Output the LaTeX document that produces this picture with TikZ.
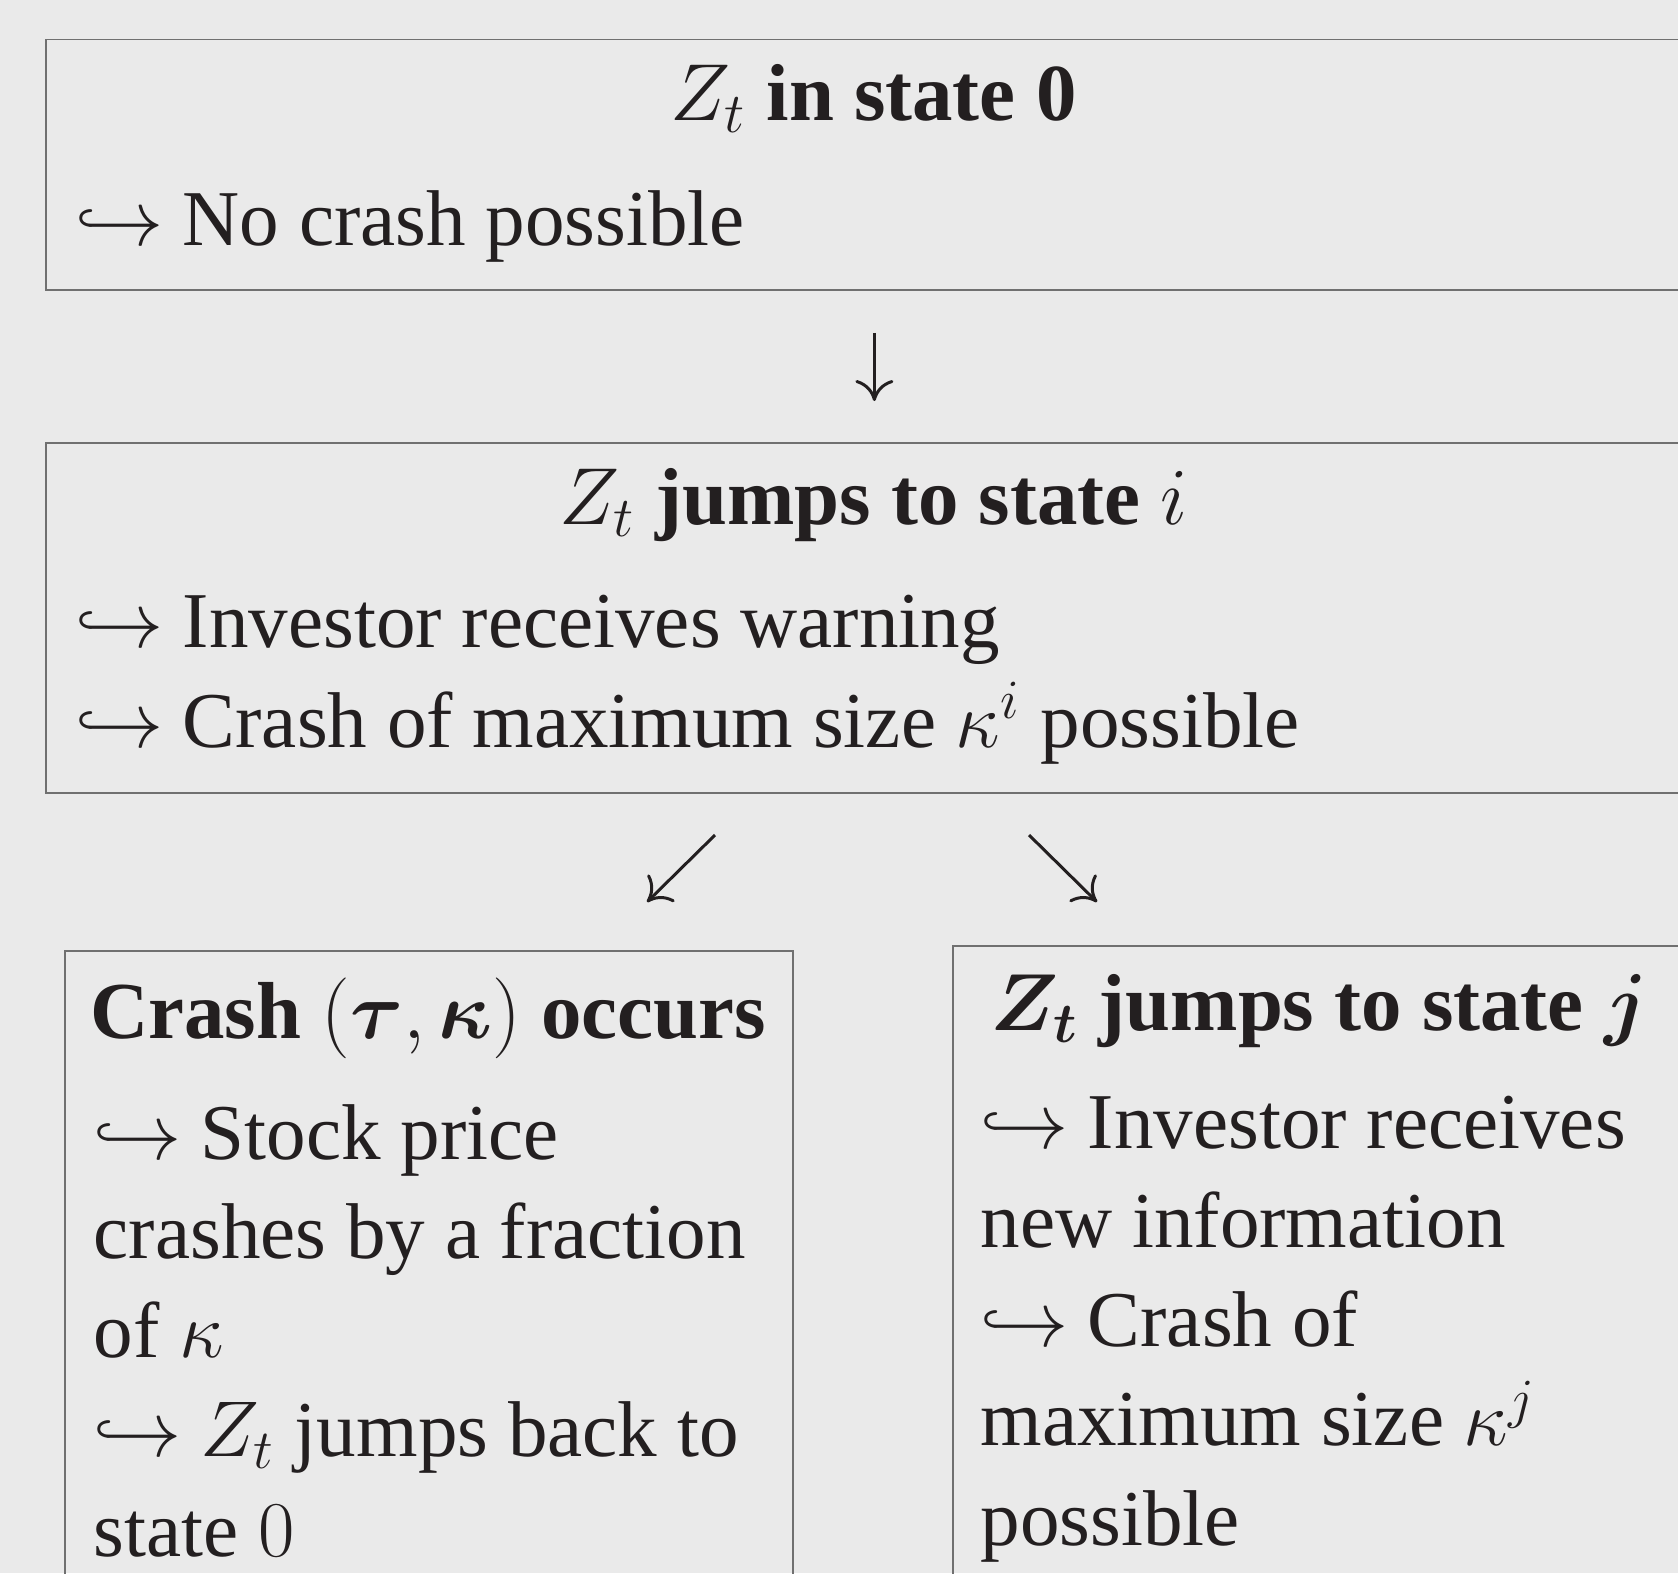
\RequirePackage{fix-cm}
\documentclass[tikz,border=0pt]{standalone}
\usepackage{amsmath}
\usepackage[no-math]{fontspec}
\setmainfont{Liberation Serif}
\usetikzlibrary{arrows.meta}

\definecolor{paper}{RGB}{234,234,234}
\definecolor{frame}{RGB}{112,112,112}
\definecolor{ink}{RGB}{35,31,32}

\tikzset{
  box/.style={draw=frame, line width=0.5pt, anchor=north west, inner sep=0pt},
  head/.style={font=\fontsize{23}{28}\selectfont\bfseries, text=ink, inner sep=0pt, anchor=base},
  body/.style={font=\fontsize{22.5}{28.2}\selectfont, text=ink, inner sep=0pt, align=left, anchor=base west},
  arr/.style={draw=ink, line width=0.85pt, -{Computer Modern Rightarrow[length=2.1mm,width=3.8mm]}}
}

\begin{document}
\begin{tikzpicture}
    % Page
    \useasboundingbox (0,0) rectangle (16.78,-15.73);
    \fill[paper] (0,0) rectangle (16.78,-15.73);
    \clip (0,0) rectangle (16.78,-15.73);
    % Boxes
    \node[box, minimum width=16.57cm, minimum height=2.505cm] (box0) at (0.45,-0.385) {};
    \node[box, minimum width=16.57cm, minimum height=3.50cm] (boxi) at (0.45,-4.42) {};
    \node[box, minimum width=7.28cm, minimum height=7cm] (crash) at (0.64,-9.50) {};
    \node[box, minimum width=7.29cm, minimum height=7cm] (boxj) at (9.52,-9.45) {};
    % State 0
    \node[head] (head0) at (8.735,-1.20) {$Z_t$ in state 0};
    \node[body] (body0) at (0.75,-2.45) {$\hookrightarrow$ No crash possible};
    % State i (base = last line)
    \node[head] (headi) at (8.735,-5.24) {$Z_t$ jumps to state $i$};
    \node[body] (bodyi) at (0.75,-7.47) {$\hookrightarrow$ Investor receives warning\\
      $\hookrightarrow$ Crash of maximum size $\kappa^i$ possible};
    % Crash
    \node[head] (crashhead) at (4.28,-10.38) {Crash $(\boldsymbol{\tau},\boldsymbol{\kappa})$ occurs};
    \node[body] (crashbody) at (0.93,-15.56) {$\hookrightarrow$ Stock price\\
      crashes by a fraction\\
      of $\kappa$\\
      $\hookrightarrow$ $Z_t$ jumps back to\\
      state $0$};
    % State j
    \node[head] (headj) at (13.19,-10.30) {$\boldsymbol{Z_t}$ jumps to state $\boldsymbol{j}$};
    \node[body] (bodyj) at (9.80,-15.45) {$\hookrightarrow$ Investor receives\\
      new information\\
      $\hookrightarrow$ Crash of\\
      maximum size $\kappa^j$\\
      possible};
    % Arrows
    \coordinate (swfrom) at (7.15,-8.35);
    \coordinate (swto) at (6.47,-9.02);
    \coordinate (sefrom) at (10.29,-8.35);
    \coordinate (seto) at (10.97,-9.02);
    \draw[arr, shorten <=4.2mm, shorten >=4.1mm] (box0.south) -- (boxi.north);
    \draw[arr] (swfrom) -- (swto);
    \draw[arr] (sefrom) -- (seto);
\end{tikzpicture}
\end{document}
